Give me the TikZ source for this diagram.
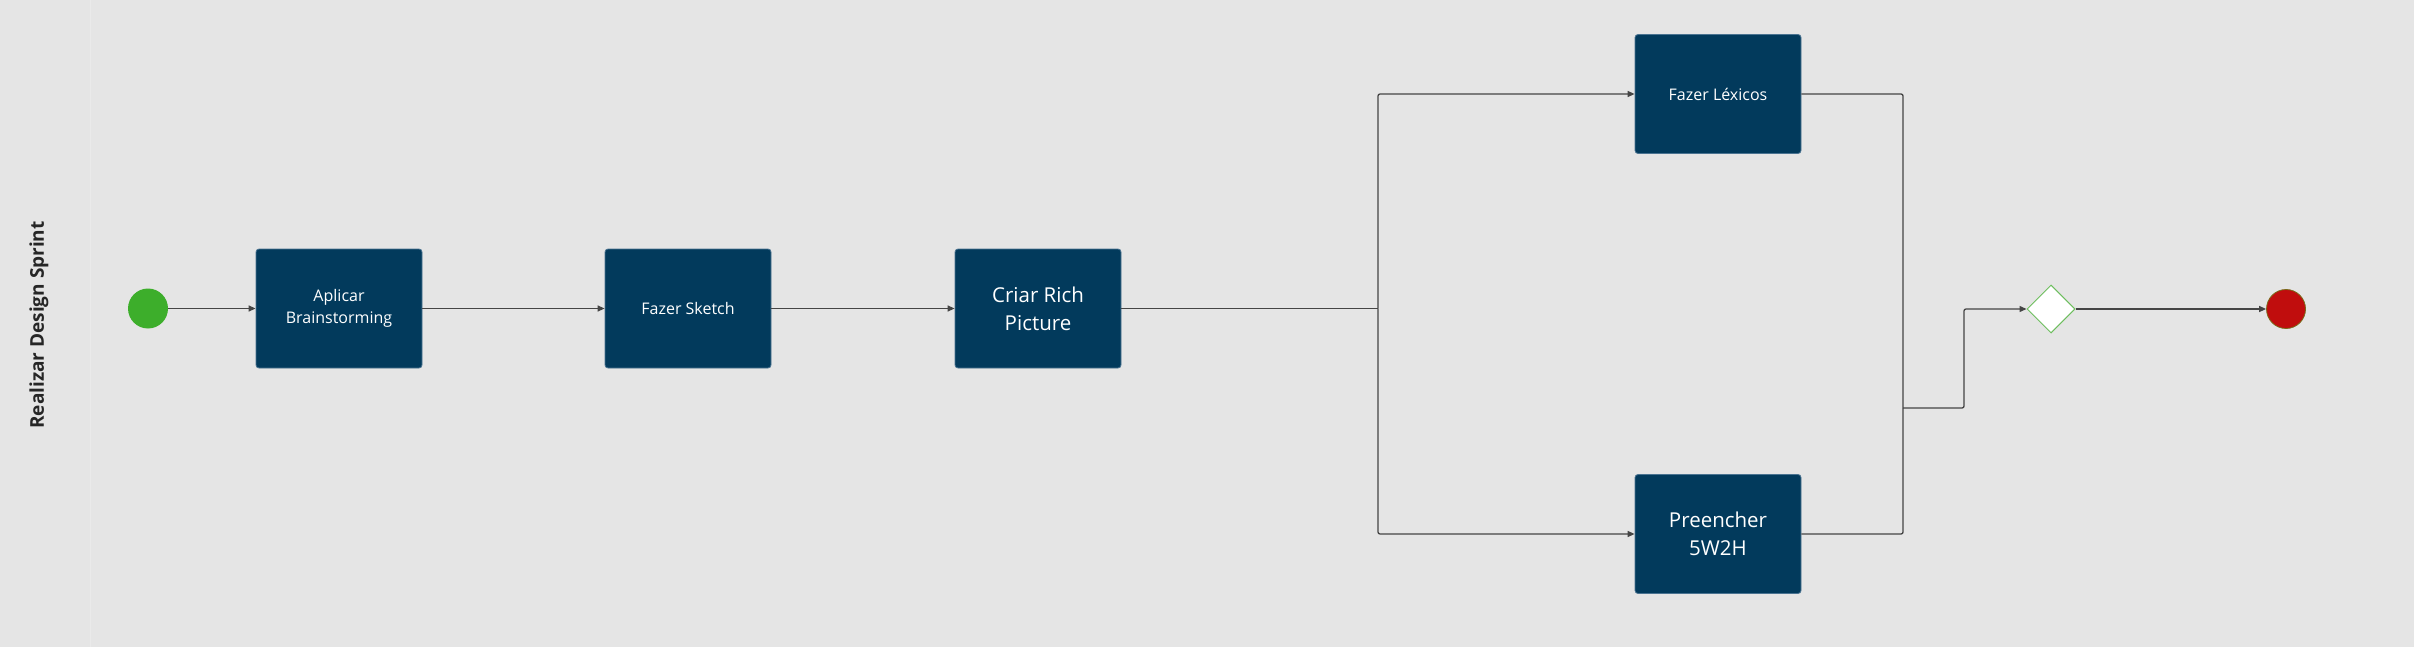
\documentclass[tikz,border=0pt]{standalone}
\usepackage{fontspec}
\setmainfont{Open Sans}
\usetikzlibrary{arrows.meta,shapes.geometric}
\definecolor{bg}{HTML}{E5E5E5}
\definecolor{lanesep}{HTML}{EAEAEA}
\definecolor{boxblue}{HTML}{023A5C}
\definecolor{boxedge}{HTML}{4A7391}
\definecolor{startgreen}{HTML}{3DAE2B}
\definecolor{endred}{HTML}{C00D0D}
\definecolor{endedge}{HTML}{7A6A1A}
\definecolor{gwedge}{HTML}{6DBE5E}
\definecolor{conn}{HTML}{454545}
\tikzset{
  task/.style={draw=boxedge, line width=0.8pt, fill=boxblue, rounded corners=3pt,
    minimum width=166pt, minimum height=119pt, text=white, align=center, inner sep=0pt},
  smalltxt/.style={font=\fontsize{16}{22}\selectfont},
  bigtxt/.style={font=\fontsize{20.5}{28}\selectfont},
  flow/.style={draw=conn, line width=1.3pt, rounded corners=2pt, -{Triangle[length=7pt,width=6pt]}},
  flowplain/.style={draw=conn, line width=1.3pt, rounded corners=2pt},
  startev/.style={circle, fill=startgreen, minimum size=40pt, inner sep=0pt},
  endev/.style={circle, fill=endred, draw=endedge, line width=0.8pt, minimum size=39pt, inner sep=0pt},
  gateway/.style={diamond, fill=white, draw=gwedge, line width=1pt, minimum width=48pt, minimum height=48pt, inner sep=0pt},
}
\begin{document}
\begin{tikzpicture}[x=1pt,y=-1pt]
\fill[bg] (0,0) rectangle (2414,647);
\useasboundingbox (0,0) rectangle (2414,647);
\fill[lanesep] (89.5,0) rectangle (91,647);
\node[rotate=90, font=\fontsize{19}{22}\selectfont\bfseries, text=black!85] (lane) at (39,325) {Realizar Design Sprint};

\node[startev] (start) at (148,308.5) {};
\node[task, smalltxt] (brain) at (339,308.5) {Aplicar\\Brainstorming};
\node[task, smalltxt] (sketch) at (688,308.5) {Fazer Sketch};
\node[task, bigtxt] (rich) at (1038,308.5) {Criar Rich\\Picture};
\node[task, smalltxt] (lex) at (1718,94) {Fazer Léxicos};
\node[task, bigtxt] (pre) at (1718,534) {Preencher\\5W2H};
\node[gateway] (gw) at (2051,309) {};
\node[endev] (end) at (2286,309) {};

\coordinate (split) at (1378,308.5);
\coordinate (join) at (1903,408);
\coordinate (bend) at (1964,408);

\draw[flow] (start) -- (brain);
\draw[flow] (brain) -- (sketch);
\draw[flow] (sketch) -- (rich);
\draw[flowplain] (rich) -- (split);
\draw[flow] (split) |- (lex.west);
\draw[flow] (split) |- (pre.west);
\draw[flowplain] (lex.east) -| (join);
\draw[flowplain] (pre.east) -| (join);
\draw[flow] (join) -- (bend) |- (gw.west);
\draw[flow] (gw.east) -- (end);
\end{tikzpicture}
\end{document}
